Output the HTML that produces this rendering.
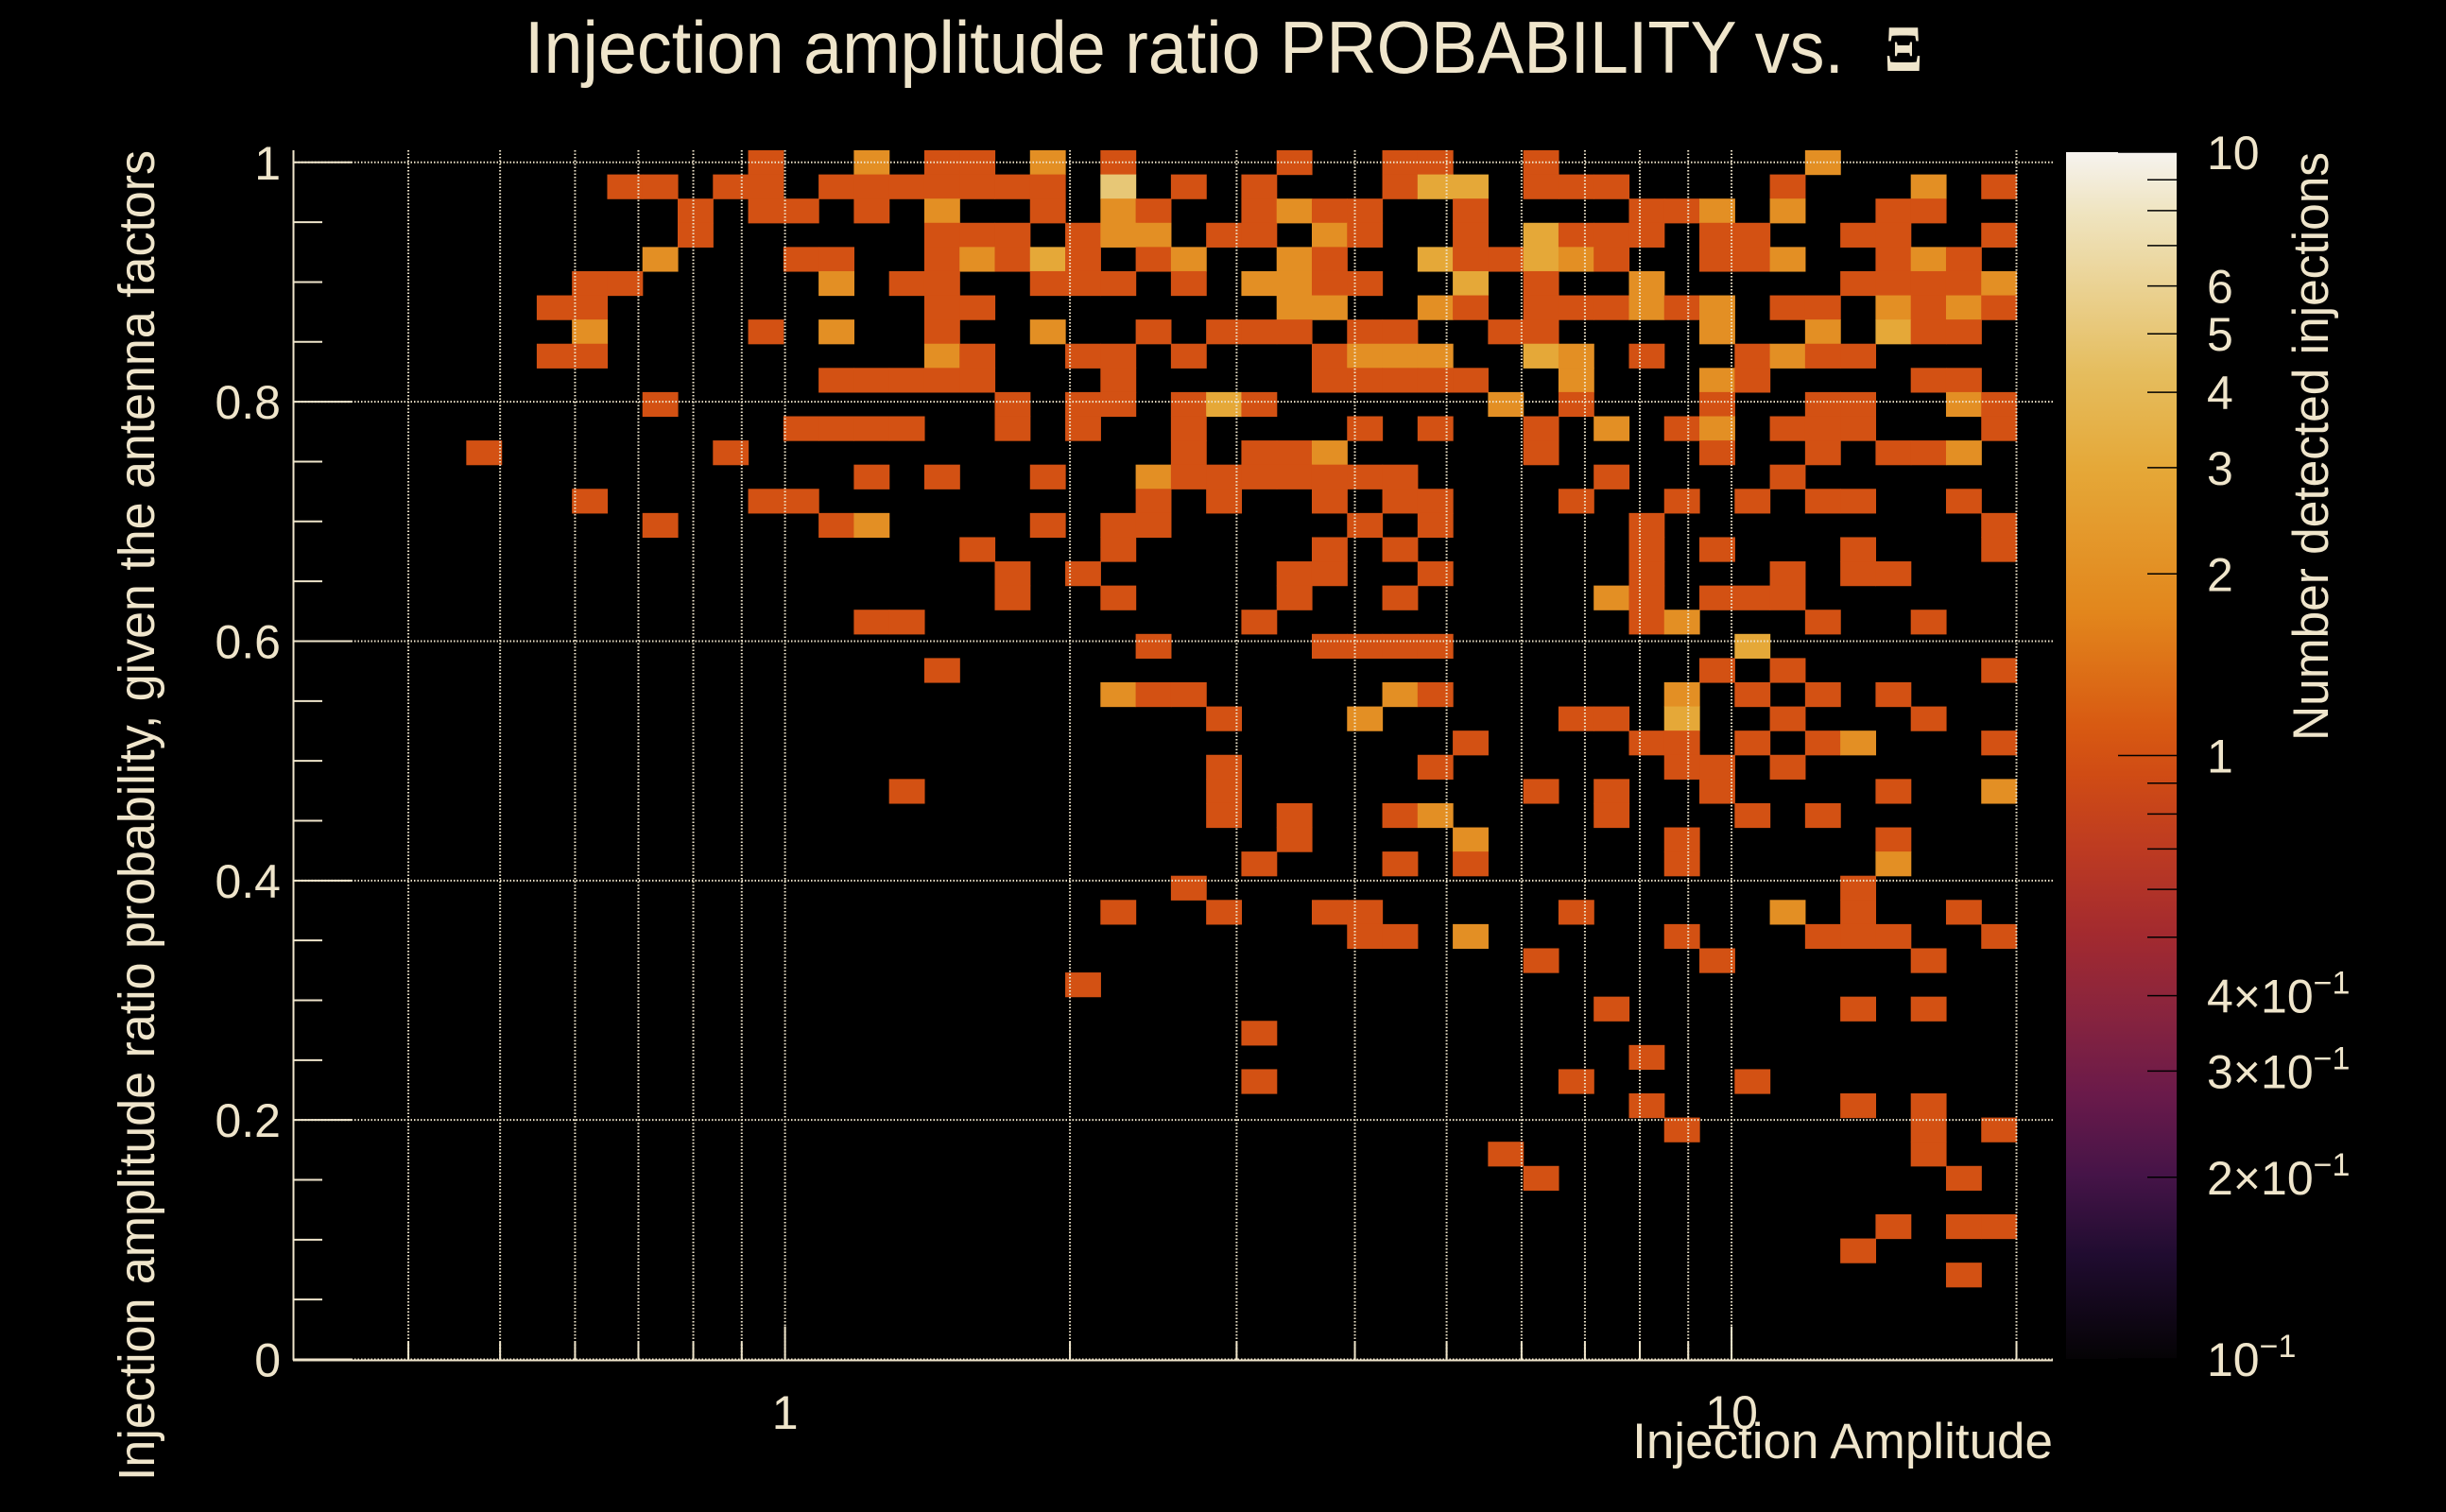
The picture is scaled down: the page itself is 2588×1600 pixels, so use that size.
<!DOCTYPE html>
<html><head><meta charset="utf-8"><title>Injection amplitude ratio probability</title>
<style>html,body{margin:0;padding:0;background:#000;}svg{display:block;}text{font-family:"Liberation Sans",sans-serif;fill:#efe5cb;}</style>
</head><body>
<svg id="chart" width="2588" height="1600" viewBox="0 0 2588 1600" xmlns="http://www.w3.org/2000/svg">
<defs>
<linearGradient id="cbgrad" x1="0" y1="1" x2="0" y2="0">
<stop offset="0" stop-color="#050305"/><stop offset="0.086" stop-color="#200c30"/><stop offset="0.153" stop-color="#461448"/><stop offset="0.219" stop-color="#6a1a4a"/><stop offset="0.286" stop-color="#88243e"/><stop offset="0.352" stop-color="#a32a2f"/><stop offset="0.419" stop-color="#bc3a22"/><stop offset="0.485" stop-color="#d04c14"/><stop offset="0.525" stop-color="#d85a12"/><stop offset="0.618" stop-color="#e2861c"/><stop offset="0.738" stop-color="#e5a838"/><stop offset="0.817" stop-color="#e5bd5e"/><stop offset="0.95" stop-color="#efe4c0"/><stop offset="1" stop-color="#f6f3ef"/>
</linearGradient>
</defs>
<rect x="0" y="0" width="2588" height="1600" fill="#000"/>
<g id="cells"></g>
<g id="grid"></g>
<g id="axes"></g>
<g id="colorbar"></g>
<text x="555" y="77" font-size="78" textLength="1396" lengthAdjust="spacingAndGlyphs">Injection amplitude ratio PROBABILITY vs.</text>
<text x="1994" y="75" font-size="70" font-weight="bold" style="font-family:'Liberation Serif',serif" textLength="40" lengthAdjust="spacingAndGlyphs">Ξ</text>
<text transform="translate(163,1567) rotate(-90)" x="0" y="0" font-size="54" textLength="1408" lengthAdjust="spacingAndGlyphs">Injection amplitude ratio probability, given the antenna factors</text>
<text x="2172" y="1543" font-size="53" text-anchor="end">Injection Amplitude</text>
<text transform="translate(2463,784) rotate(-90)" x="0" y="0" font-size="53" textLength="623" lengthAdjust="spacingAndGlyphs">Number detected injections</text>
</svg>
<script>
// ---- data ----
const ampBinCount = 49, ampBinLo = 0.3, ampBinHi = 20;
const probBinCount = 50, probBinHi = 1 / 0.99;
// occupied amplitude bins, per probability row (row 0 = top)
const rowAmpBins = [
 [13,16,18,19,21,23,28,31,32,35,43],
 [9,10,12,13,15,16,17,18,19,20,21,23,25,27,31,32,33,35,36,37,42,46,48],
 [11,13,14,16,18,21,23,24,27,28,29,30,33,38,39,40,42,45,46],
 [11,18,19,20,22,23,24,26,27,29,30,33,35,36,37,38,40,41,44,45,48],
 [10,14,15,18,19,20,21,22,24,25,28,29,32,33,34,35,36,37,40,41,42,45,46,47],
 [8,9,15,17,18,21,22,23,25,27,28,29,30,33,35,38,44,45,46,47,48],
 [7,8,18,19,28,29,32,33,35,36,37,38,39,40,42,43,45,46,47,48],
 [8,13,15,18,21,24,26,27,28,30,31,34,35,40,43,45,46,47],
 [7,8,18,19,22,23,25,29,30,31,32,35,36,38,41,42,43,44],
 [15,16,17,18,19,23,29,30,31,32,33,36,40,41,46,47],
 [10,20,22,23,25,26,27,34,36,40,43,44,47,48],
 [14,15,16,17,20,22,25,30,32,35,37,39,40,42,43,44,48],
 [5,12,25,27,28,29,35,40,43,45,46,47],
 [16,18,21,24,25,26,27,28,29,30,31,37,42],
 [8,13,14,24,26,29,31,32,36,39,41,43,44,47],
 [10,15,16,21,23,24,30,32,38,48],
 [19,23,29,31,38,40,44,48],
 [20,22,28,29,32,38,42,44,45],
 [20,23,28,31,37,38,40,41,42],
 [16,17,27,38,39,43,46],
 [24,29,30,31,32,41],
 [18,40,42,48],
 [23,24,25,31,32,39,41,43,45],
 [26,30,36,37,39,42,46],
 [33,38,39,41,43,44,48],
 [26,32,39,40,42],
 [17,26,35,37,40,45,48],
 [26,28,31,32,37,41,43],
 [28,33,39,45],
 [27,31,33,39,45],
 [25,44],
 [23,26,29,30,36,42,44,47],
 [30,31,33,39,43,44,45,48],
 [35,40,46],
 [22],
 [37,44,46],
 [27],
 [38],
 [27,36,41],
 [38,44,46],
 [39,46,48],
 [34,46],
 [35,47],
 [],
 [45,47,48],
 [44],
 [47]
];
// counts matching rowAmpBins
const rowCounts = [
 [1,2,1,1,2,1,1,1,1,1,2],
 [1,1,1,1,1,1,1,1,1,1,1,5,1,1,1,3,3,1,1,1,1,2,1],
 [1,1,1,1,2,1,2,1,1,2,1,1,1,1,1,2,2,1,1],
 [1,1,1,1,1,2,2,1,1,2,1,1,3,1,1,1,1,1,1,1,1],
 [2,1,1,1,2,1,3,1,1,2,2,1,3,1,1,3,2,1,1,1,2,1,2,1],
 [1,1,2,1,1,1,1,1,1,2,2,1,1,3,1,2,1,1,1,1,2],
 [1,1,1,1,2,2,2,1,1,1,1,2,1,2,1,1,2,1,2,1],
 [2,1,2,1,2,1,1,1,1,1,1,1,1,2,2,3,1,1],
 [1,1,2,1,1,1,1,1,2,2,2,3,2,1,1,2,1,1],
 [1,1,1,1,1,1,1,1,1,1,1,2,2,1,1,1],
 [1,1,1,1,1,3,1,2,1,1,1,1,2,1],
 [1,1,1,1,1,1,1,1,1,1,2,1,2,1,1,1,1],
 [1,1,1,1,1,2,1,1,1,1,1,2],
 [1,1,1,2,1,1,1,1,1,1,1,1,1],
 [1,1,1,1,1,1,1,1,1,1,1,1,1,1],
 [1,1,2,1,1,1,1,1,1,1],
 [1,1,1,1,1,1,1,1],
 [1,1,1,1,1,1,1,1,1],
 [1,1,1,1,2,1,1,1,1],
 [1,1,1,1,2,1,1],
 [1,1,1,1,1,3],
 [1,1,1,1],
 [2,1,1,2,1,2,1,1,1],
 [1,2,1,1,3,1,1],
 [1,1,1,1,1,2,1],
 [1,1,1,1,1],
 [1,1,1,1,1,1,2],
 [1,1,1,2,1,1,1],
 [1,2,1,1],
 [1,1,1,1,2],
 [1,1],
 [1,1,1,1,1,2,1,1],
 [1,1,2,1,1,1,1,1],
 [1,1,1],
 [1],
 [1,1,1],
 [1],
 [1],
 [1,1,1],
 [1,1,1],
 [1,1,1],
 [1,1],
 [1,1],
 [],
 [1,1,1],
 [1],
 [1]
];
const yTickLabels = ["0","0.2","0.4","0.6","0.8","1"];
const yTickValues = [0,0.2,0.4,0.6,0.8,1];
const xGridValues = [0.4,0.5,0.6,0.7,0.8,0.9,1,2,3,4,5,6,7,8,9,10,20];
const xLabelValues = [1,10];
const xTickLabels = ["1","10"];
const cbMajor = [0.1,1,10];
const cbMinor = [0.2,0.3,0.4,0.5,0.6,0.7,0.8,0.9,2,3,4,5,6,7,8,9];
const cbLabelValues = [10,6,5,4,3,2,1,0.4,0.3,0.2,0.1];
const cbLabelMant = ["10","6","5","4","3","2","1","4×10","3×10","2×10","10"];
const cbLabelExp = ["","","","","","","","−1","−1","−1","−1"];

// ---- scales ----
const PX0 = 312, PX1 = 2172, PY0 = 1438.5, PYUNIT = 1266.7;
const XA0 = 0.3035, XA1 = 21.85;
function xScale(v){ return PX0 + (Math.log10(v)-Math.log10(XA0))/(Math.log10(XA1)-Math.log10(XA0))*(PX1-PX0); }
function yScale(v){ return PY0 - v*PYUNIT; }
function ampEdge(i){ return Math.pow(10, Math.log10(ampBinLo) + i*(Math.log10(ampBinHi)-Math.log10(ampBinLo))/ampBinCount); }
function probEdge(k){ return k*probBinHi/probBinCount; }
const CB_X = 2186, CB_W = 117, CB_TOP = 161, CB_BOT = 1438;
function cbScale(v){ return CB_BOT - (Math.log10(v)+1)/2*(CB_BOT-CB_TOP); }
const stops = [[0,[5,3,5]],[0.086,[32,12,48]],[0.153,[70,20,72]],[0.219,[106,26,74]],[0.286,[136,36,62]],[0.352,[163,42,47]],[0.419,[188,58,34]],[0.485,[208,76,20]],[0.525,[216,90,18]],[0.618,[226,134,28]],[0.738,[229,168,56]],[0.817,[229,189,94]],[0.95,[239,228,192]],[1,[246,243,239]]];
function colorFor(c){
  let t = Math.max(0, Math.min(1, (Math.log10(c)+1)/2));
  for (let i=1;i<stops.length;i++){
    if (t <= stops[i][0]){
      const a=stops[i-1], b=stops[i], f=(t-a[0])/(b[0]-a[0]);
      const rgb=a[1].map((v,j)=>Math.round(v+(b[1][j]-v)*f));
      return "rgb("+rgb.join(",")+")";
    }
  }
  return "rgb(246,243,239)";
}
const NS = "http://www.w3.org/2000/svg";
function mk(tag, attrs, parent){ const e=document.createElementNS(NS,tag); for (const k in attrs) e.setAttribute(k, attrs[k]); parent.appendChild(e); return e; }

// ---- cells ----
const gCells = document.getElementById("cells");
rowAmpBins.forEach((cols, r) => {
  const k = probBinCount - 1 - r;
  const yTop = yScale(probEdge(k+1)), yBot = yScale(probEdge(k));
  cols.forEach((ci, j) => {
    const x0 = xScale(ampEdge(ci)), x1 = xScale(ampEdge(ci+1));
    const rc = mk("rect", {x:x0.toFixed(2), y:yTop.toFixed(2), width:(x1-x0+0.6).toFixed(2), height:(yBot-yTop+0.6).toFixed(2), fill:colorFor(rowCounts[r][j])}, gCells);
    
    
  });
});

// ---- grid ----
const gGrid = document.getElementById("grid");
const yTopPlot = yScale(probBinHi);
xGridValues.forEach(v => {
  const x = xScale(v);
  const l = mk("line", {x1:x, x2:x, y1:yTopPlot, y2:PY0, stroke:"#efe5cb", "stroke-width":2, "stroke-dasharray":"1.5 2"}, gGrid);
  
  
});
yTickValues.forEach(v => {
  const y = yScale(v);
  const l = mk("line", {x1:PX0, x2:PX1, y1:y, y2:y, stroke:"#efe5cb", "stroke-width":2, "stroke-dasharray":"1.5 2"}, gGrid);
  
  
});

// ---- axes ----
const gAx = document.getElementById("axes");
const ax1 = mk("line", {x1:310.5, x2:310.5, y1:yTopPlot, y2:PY0+1, stroke:"#efe5cb", "stroke-width":2}, gAx);


const ax2 = mk("line", {x1:310, x2:PX1, y1:PY0+1, y2:PY0+1, stroke:"#efe5cb", "stroke-width":2}, gAx);


for (let i=0;i<=20;i++){
  const v = i*0.05, y = yScale(v), major = (i%4===0);
  const t = mk("line", {x1:311, x2:311+(major?61:30), y1:y, y2:y, stroke:"#efe5cb", "stroke-width":2}, gAx);
  
  
}
yTickValues.forEach((v,i) => {
  const t = mk("text", {x:297, y:(yScale(v)+18).toFixed(1), "font-size":50, "text-anchor":"end"}, gAx);
  t.textContent = yTickLabels[i];
  
  
});
xGridValues.forEach(v => {
  const x = xScale(v), major = xLabelValues.indexOf(v) >= 0;
  const t = mk("line", {x1:x, x2:x, y1:PY0, y2:PY0-(major?35:18), stroke:"#efe5cb", "stroke-width":2}, gAx);
  
  
});
xLabelValues.forEach((v,i) => {
  const t = mk("text", {x:xScale(v).toFixed(1), y:1512, "font-size":50, "text-anchor":"middle"}, gAx);
  t.textContent = xTickLabels[i];
  
  
});

// ---- colorbar ----
const gCb = document.getElementById("colorbar");
const cbr = mk("rect", {x:CB_X, y:CB_TOP, width:CB_W, height:CB_BOT-CB_TOP, fill:"url(#cbgrad)"}, gCb);


cbMajor.forEach(v => {
  const y = cbScale(v);
  const t = mk("line", {x1:CB_X+CB_W-62, x2:CB_X+CB_W, y1:y, y2:y, stroke:"#000", "stroke-width":1.5}, gCb);
  
  
});
cbMinor.forEach(v => {
  const y = cbScale(v);
  const t = mk("line", {x1:CB_X+CB_W-31, x2:CB_X+CB_W, y1:y, y2:y, stroke:"#000", "stroke-width":1.5}, gCb);
  
  
});
cbLabelValues.forEach((v,i) => {
  const t = mk("text", {x:2335, y:(cbScale(v)+18).toFixed(1), "font-size":50}, gCb);
  t.textContent = cbLabelMant[i];
  if (cbLabelExp[i]) {
    const s = mk("tspan", {dy:-20, "font-size":34}, t);
    s.textContent = cbLabelExp[i];
  }
  
  
});
</script>
</body></html>
